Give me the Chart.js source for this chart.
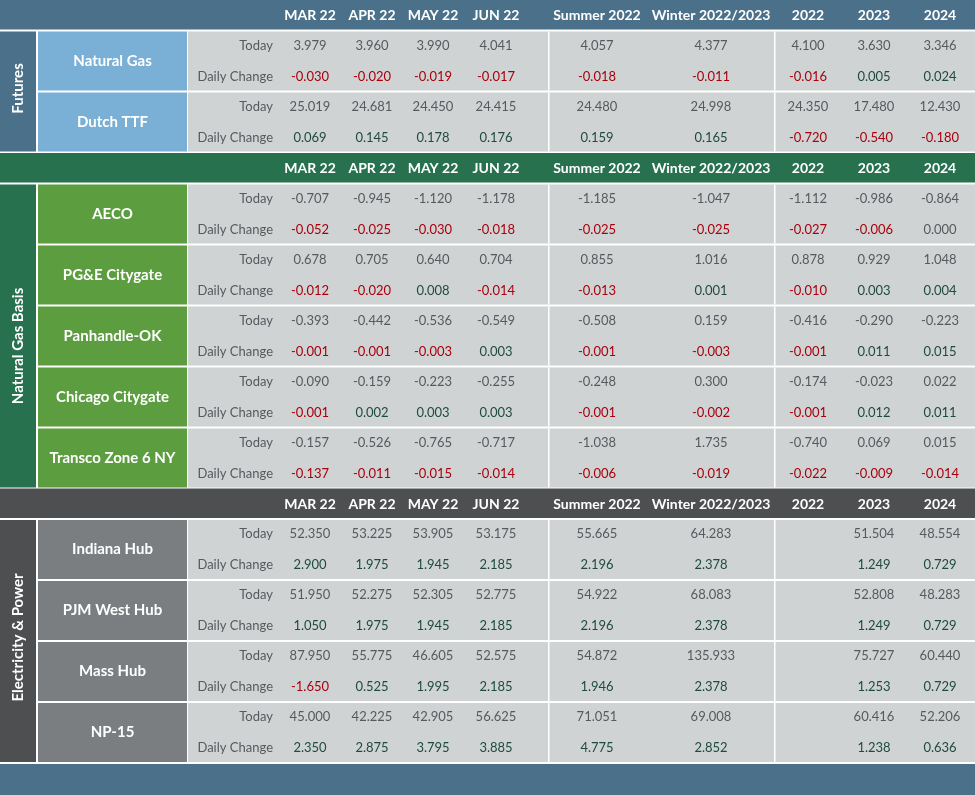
<!DOCTYPE html>
<html>
<head>
<meta charset="utf-8">
<script src="https://cdn.jsdelivr.net/npm/chart.js@4.4.1/dist/chart.umd.min.js"></script>
<style>
html,body{margin:0;padding:0;background:#fff;overflow:hidden}
#wrap{width:975px;height:795px;position:relative}
</style>
</head>
<body>
<div id="wrap"><canvas id="board"></canvas></div>
<script>
// table content
var columns = ["MAR 22","APR 22","MAY 22","JUN 22","Summer 2022","Winter 2022/2023","2022","2023","2024"];
var sections = ["Futures","Natural Gas Basis","Electricity & Power"];

var futuresRows = ["Natural Gas","Dutch TTF"];
var futuresToday = [
  [3.979,3.960,3.990,4.041,4.057,4.377,4.100,3.630,3.346],
  [25.019,24.681,24.450,24.415,24.480,24.998,24.350,17.480,12.430]];
var futuresChange = [
  [-0.030,-0.020,-0.019,-0.017,-0.018,-0.011,-0.016,0.005,0.024],
  [0.069,0.145,0.178,0.176,0.159,0.165,-0.720,-0.540,-0.180]];

var basisRows = ["AECO","PG&E Citygate","Panhandle-OK","Chicago Citygate","Transco Zone 6 NY"];
var basisToday = [
  [-0.707,-0.945,-1.120,-1.178,-1.185,-1.047,-1.112,-0.986,-0.864],
  [0.678,0.705,0.640,0.704,0.855,1.016,0.878,0.929,1.048],
  [-0.393,-0.442,-0.536,-0.549,-0.508,0.159,-0.416,-0.290,-0.223],
  [-0.090,-0.159,-0.223,-0.255,-0.248,0.300,-0.174,-0.023,0.022],
  [-0.157,-0.526,-0.765,-0.717,-1.038,1.735,-0.740,0.069,0.015]];
var basisChange = [
  [-0.052,-0.025,-0.030,-0.018,-0.025,-0.025,-0.027,-0.006,0.000],
  [-0.012,-0.020,0.008,-0.014,-0.013,0.001,-0.010,0.003,0.004],
  [-0.001,-0.001,-0.003,0.003,-0.001,-0.003,-0.001,0.011,0.015],
  [-0.001,0.002,0.003,0.003,-0.001,-0.002,-0.001,0.012,0.011],
  [-0.137,-0.011,-0.015,-0.014,-0.006,-0.019,-0.022,-0.009,-0.014]];

var powerRows = ["Indiana Hub","PJM West Hub","Mass Hub","NP-15"];
var powerToday = [
  [52.350,53.225,53.905,53.175,55.665,64.283,null,51.504,48.554],
  [51.950,52.275,52.305,52.775,54.922,68.083,null,52.808,48.283],
  [87.950,55.775,46.605,52.575,54.872,135.933,null,75.727,60.440],
  [45.000,42.225,42.905,56.625,71.051,69.008,null,60.416,52.206]];
var powerChange = [
  [2.900,1.975,1.945,2.185,2.196,2.378,null,1.249,0.729],
  [1.050,1.975,1.945,2.185,2.196,2.378,null,1.249,0.729],
  [-1.650,0.525,1.995,2.185,1.946,2.378,null,1.253,0.729],
  [2.350,2.875,3.795,3.885,4.775,2.852,null,1.238,0.636]];

// layout (scale units == pixels of the 975x795 board)
var colX = [310,372,433,496,597,711,808,874,940];
var dividers = [548, 774];
var headerTop = [0, 153, 488.5];
var headerH = 29.5, rowPitch = 61, rowH = 59, rowGap = 31.5;
var sectionShift = [-3, 10, -3.5];
var sectionColor = ["#4b718a","#27714f","#4e4f51"];
var rowColor = ["#7aafd6","#5b9d3f","#7b7e81"];
var cellGray = "#d0d3d4";
var txtGray = "#565a5e", negRed = "#a8000c", posGreen = "#1e4b3b";
var FONT = "Lato, 'Open Sans', sans-serif";

var blocks = [
  {rows: futuresRows, today: futuresToday, change: futuresChange},
  {rows: basisRows, today: basisToday, change: basisChange},
  {rows: powerRows, today: powerToday, change: powerChange}];

function rowTop(b, r) { return headerTop[b] + rowGap + r * rowPitch; }

var todayPts = [], changePts = [];
blocks.forEach(function (blk, b) {
  blk.rows.forEach(function (name, r) {
    var top = rowTop(b, r);
    columns.forEach(function (c, j) {
      if (blk.today[r][j] !== null) todayPts.push({x: colX[j], y: top + 14, v: blk.today[r][j]});
      if (blk.change[r][j] !== null) changePts.push({x: colX[j], y: top + 45, v: blk.change[r][j]});
    });
  });
});

var tablePaint = {
  id: 'tablePaint',
  beforeDatasetsDraw: function (chart) {
    var ctx = chart.ctx, xs = chart.scales.x, ys = chart.scales.y;
    function X(v) { return xs.getPixelForValue(v); }
    function Y(v) { return ys.getPixelForValue(v); }
    function rect(x0, y0, x1, y1, col) {
      ctx.fillStyle = col;
      ctx.fillRect(X(x0), Y(y0), X(x1) - X(x0), Y(y1) - Y(y0));
    }
    ctx.save();
    ctx.textBaseline = 'middle';
    blocks.forEach(function (blk, b) {
      var h0 = headerTop[b];
      rect(0, h0, 975, h0 + headerH, sectionColor[b]);
      ctx.fillStyle = '#ffffff';
      ctx.font = 'bold 14px ' + FONT;
      ctx.textAlign = 'center';
      columns.forEach(function (c, j) { ctx.fillText(c, X(colX[j]), Y(h0 + 15.5)); });
      var sTop = rowTop(b, 0), sBot = rowTop(b, blk.rows.length - 1) + rowH;
      rect(0, sTop, 36, sBot, sectionColor[b]);
      ctx.save();
      ctx.translate(X(18.5), Y((sTop + sBot) / 2 + sectionShift[b]));
      ctx.rotate(-Math.PI / 2);
      ctx.fillStyle = '#ffffff';
      ctx.font = 'bold 15px ' + FONT;
      ctx.fillText(sections[b], 0, 0);
      ctx.restore();
      blk.rows.forEach(function (name, r) {
        var t = rowTop(b, r);
        rect(38, t, 187, t + rowH, rowColor[b]);
        rect(188, t, 975, t + rowH, cellGray);
        dividers.forEach(function (d) { rect(d, t, d + 1.5, t + rowH, '#ffffff'); });
        ctx.fillStyle = '#ffffff';
        ctx.font = 'bold 15px ' + FONT;
        ctx.textAlign = 'center';
        ctx.fillText(name, X(112.5), Y(t + 29.5));
        ctx.fillStyle = txtGray;
        ctx.font = '13px ' + FONT;
        ctx.textAlign = 'right';
        ctx.fillText('Today', X(273), Y(t + 14));
        ctx.fillText('Daily Change', X(273), Y(t + 45));
      });
    });
    rect(0, 764, 975, 795, sectionColor[0]);
    ctx.restore();
  },
  afterDatasetsDraw: function (chart) {
    var ctx = chart.ctx;
    ctx.save();
    ctx.textAlign = 'center';
    ctx.textBaseline = 'middle';
    ctx.font = '13px ' + FONT;
    chart.data.datasets.forEach(function (ds, i) {
      var meta = chart.getDatasetMeta(i);
      meta.data.forEach(function (pt, k) {
        var v = ds.data[k].v;
        if (ds.label === 'Daily Change') {
          ctx.fillStyle = v < 0 ? negRed : (v > 0 ? posGreen : txtGray);
        } else {
          ctx.fillStyle = txtGray;
        }
        ctx.fillText(v.toFixed(3), pt.x, pt.y);
      });
    });
    ctx.restore();
  }
};

new Chart(document.getElementById('board'), {
  type: 'scatter',
  data: {
    datasets: [
      {label: 'Today', data: todayPts, pointRadius: 0, pointHoverRadius: 0},
      {label: 'Daily Change', data: changePts, pointRadius: 0, pointHoverRadius: 0}]
  },
  options: {
    responsive: true,
    maintainAspectRatio: false,
    animation: false,
    events: [],
    layout: {padding: 0},
    plugins: {legend: {display: false}, tooltip: {enabled: false}},
    scales: {
      x: {type: 'linear', min: 0, max: 975, display: false},
      y: {type: 'linear', min: 0, max: 795, reverse: true, display: false}
    }
  },
  plugins: [tablePaint]
});
</script>
</body>
</html>
